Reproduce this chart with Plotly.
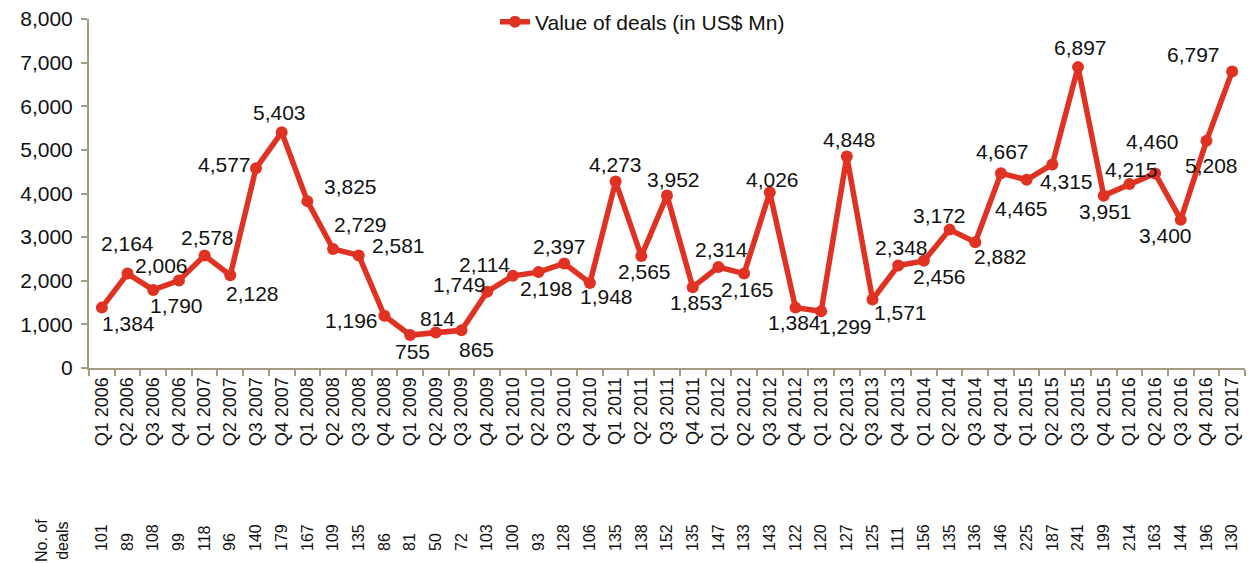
import plotly.graph_objects as go

quarters = ["Q1 2006", "Q2 2006", "Q3 2006", "Q4 2006",
            "Q1 2007", "Q2 2007", "Q3 2007", "Q4 2007",
            "Q1 2008", "Q2 2008", "Q3 2008", "Q4 2008",
            "Q1 2009", "Q2 2009", "Q3 2009", "Q4 2009",
            "Q1 2010", "Q2 2010", "Q3 2010", "Q4 2010",
            "Q1 2011", "Q2 2011", "Q3 2011", "Q4 2011",
            "Q1 2012", "Q2 2012", "Q3 2012", "Q4 2012",
            "Q1 2013", "Q2 2013", "Q3 2013", "Q4 2013",
            "Q1 2014", "Q2 2014", "Q3 2014", "Q4 2014",
            "Q1 2015", "Q2 2015", "Q3 2015", "Q4 2015",
            "Q1 2016", "Q2 2016", "Q3 2016", "Q4 2016",
            "Q1 2017"]

deal_value = [1384, 2164, 1790, 2006, 2578, 2128, 4577, 5403,
              3825, 2729, 2581, 1196, 755, 814, 865, 1749,
              2114, 2198, 2397, 1948, 4273, 2565, 3952, 1853,
              2314, 2165, 4026, 1384, 1299, 4848, 1571, 2348,
              2456, 3172, 2882, 4465, 4315, 4667, 6897, 3951,
              4215, 4460, 3400, 5208, 6797]

deal_count = [101, 89, 108, 99, 118, 96, 140, 179, 167, 109, 135, 86,
              81, 50, 72, 103, 100, 93, 128, 106, 135, 138, 152, 135,
              147, 133, 143, 122, 120, 127, 125, 111, 156, 135, 136, 146,
              225, 187, 241, 199, 214, 163, 144, 196, 130]

y_ticks = [0, 1000, 2000, 3000, 4000, 5000, 6000, 7000, 8000]

# label offsets from each point, in pixels (style only)
label_dx = [27, 0, 23, -17, 3, 22, -31, -2, 43, 27, 40, -33,
            2, 2, 15, -28, -28, 8, -5, 17, 0, 3, 6, 4,
            3, 3, 3, -1, 24, 3, 28, 3, 16, -10, 25, 21,
            40, -50, 2, 2, 2, -3, -15, 5, -39]
label_dy = [-16, 30, -16, 15, 18, -18, 4, 20, 15, 24, 10, -5,
            -16, 14, -19, 7, 11, -16, 17, -13, 17, -15, 16, -15,
            18, -16, 13, -15, -15, 17, -13, 18, -16, 14, -14, -35,
            -2, 13, 20, -16, 15, 32, -16, -25, 17]

W, H = 1254, 563
ML, MR, MT, MB = 89, 9, 19, 10
plot_w = W - ML - MR
plot_h = H - MT - MB
def yfrac(px):
    return (H - MB - px) / plot_h
def xfrac(px):
    return (px - ML) / plot_w

RED = "#E03222"
AXIS = "#A39D83"
FONT = "Liberation Sans, Arial, sans-serif"
TXT = "#111111"

fig = go.Figure()
fig.add_trace(go.Scatter(
    x=quarters, y=deal_value, mode="lines+markers",
    name="Value of deals (in US$ Mn)",
    line=dict(color=RED, width=5.5),
    marker=dict(color=RED, size=12),
    cliponaxis=False,
    hoverinfo="x+y",
))
fig.add_trace(go.Scatter(
    x=quarters, y=deal_value, xaxis="x2", mode="markers",
    marker=dict(opacity=0), showlegend=False, hoverinfo="skip",
))

annotations = []
for q, v, dx, dy in zip(quarters, deal_value, label_dx, label_dy):
    annotations.append(dict(
        x=q, y=v, xref="x", yref="y", text=f"{v:,}", showarrow=False,
        xshift=dx, yshift=dy, xanchor="center", yanchor="middle",
        font=dict(size=21, family=FONT, color=TXT),
    ))
annotations.append(dict(
    text="No. of<br>deals", textangle=-90, showarrow=False,
    xref="paper", yref="paper",
    x=xfrac(52), y=yfrac(541),
    xanchor="center", yanchor="middle",
    font=dict(size=16, family=FONT, color=TXT), align="center",
))

fig.update_layout(
    width=W, height=H,
    margin=dict(l=ML, r=MR, t=MT, b=MB, autoexpand=False),
    paper_bgcolor="white", plot_bgcolor="white",
    font=dict(family=FONT, color=TXT),
    showlegend=True,
    legend=dict(x=xfrac(495), xanchor="left",
                y=yfrac(22), yanchor="middle",
                font=dict(size=21, family=FONT), bgcolor="rgba(0,0,0,0)"),
    xaxis=dict(
        type="category", categoryorder="array", categoryarray=quarters,
        range=[-0.5, len(quarters) - 0.5], automargin=False,
        showline=True, linecolor=AXIS, linewidth=2,
        ticks="outside", tickson="boundaries", ticklen=6, tickcolor=AXIS, tickwidth=2,
        tickangle=-90, tickfont=dict(size=18, family=FONT, color=TXT),
        showgrid=False, zeroline=False, anchor="y",
    ),
    xaxis2=dict(
        type="category", categoryorder="array", categoryarray=quarters,
        range=[-0.5, len(quarters) - 0.5], automargin=False,
        overlaying="x", anchor="free", position=yfrac(551), side="top",
        tickmode="array", tickvals=quarters, ticktext=[str(c) for c in deal_count],
        tickangle=-90, tickfont=dict(size=16, family=FONT, color=TXT),
        showline=False, ticks="", showgrid=False, zeroline=False,
    ),
    yaxis=dict(
        domain=[yfrac(368), 1], range=[0, 8000], automargin=False,
        tickmode="array", tickvals=y_ticks, tickformat=",",
        showline=True, linecolor=AXIS, linewidth=2,
        ticks="outside", ticklen=6, tickcolor=AXIS, tickwidth=2,
        ticklabelstandoff=4,
        tickfont=dict(size=21, family=FONT, color=TXT),
        showgrid=False, zeroline=False,
    ),
    annotations=annotations,
)

fig.write_html("out.html", config={"displayModeBar": False},
               post_script="document.body.style.margin='0';")
